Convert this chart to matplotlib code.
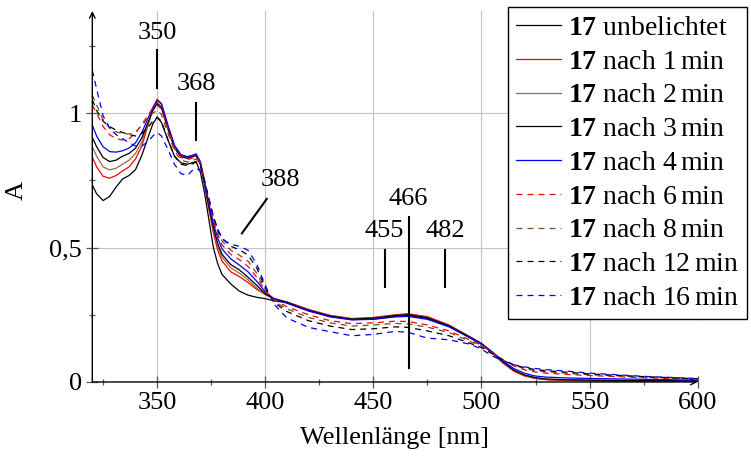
import matplotlib
matplotlib.use("Agg")
import matplotlib.pyplot as plt

plt.rcParams['font.family'] = ['Liberation Serif', 'DejaVu Serif']
plt.rcParams['mathtext.fontset'] = 'custom'
plt.rcParams['mathtext.rm'] = 'Liberation Serif'
plt.rcParams['mathtext.bf'] = 'Liberation Serif:bold'

# wavelength grid (nm)
lam = [320, 322, 325, 328, 331, 334, 337, 340, 343, 346,
       348, 350, 352, 355, 358, 361, 364, 366, 368, 370,
       372, 374, 376, 378, 380, 384, 388, 392, 396, 400,
       404, 410, 420, 430, 440, 450, 460, 466, 475, 485,
       495, 500, 505, 510, 515, 520, 525, 530, 540, 550,
       575, 600]

a_0 = [0.733, 0.70, 0.675, 0.69, 0.725, 0.755, 0.768, 0.79, 0.845, 0.915,
       0.96, 0.985, 0.965, 0.90, 0.84, 0.815, 0.81, 0.815, 0.82, 0.78,
       0.70, 0.60, 0.50, 0.44, 0.40, 0.365, 0.338, 0.323, 0.315, 0.31,
       0.302, 0.295, 0.265, 0.245, 0.232, 0.234, 0.244, 0.248, 0.237, 0.207,
       0.163, 0.14, 0.108, 0.072, 0.042, 0.024, 0.014, 0.009, 0.006, 0.005,
       0.003, 0.002]
a_1 = [0.837, 0.80, 0.765, 0.758, 0.768, 0.785, 0.80, 0.83, 0.88, 0.96,
       1.02, 1.052, 1.035, 0.95, 0.88, 0.845, 0.838, 0.842, 0.848, 0.81,
       0.73, 0.64, 0.555, 0.49, 0.45, 0.41, 0.392, 0.37, 0.345, 0.325,
       0.31, 0.298, 0.27, 0.248, 0.236, 0.24, 0.25, 0.254, 0.243, 0.212,
       0.167, 0.143, 0.108, 0.07, 0.04, 0.022, 0.013, 0.009, 0.006, 0.005,
       0.003, 0.002]
a_2 = [0.875, 0.84, 0.80, 0.789, 0.795, 0.81, 0.825, 0.85, 0.895, 0.965,
       1.01, 1.04, 1.025, 0.945, 0.875, 0.842, 0.835, 0.84, 0.845, 0.81,
       0.73, 0.645, 0.565, 0.505, 0.465, 0.425, 0.405, 0.38, 0.35, 0.325,
       0.31, 0.297, 0.268, 0.246, 0.235, 0.238, 0.248, 0.251, 0.24, 0.21,
       0.166, 0.143, 0.109, 0.072, 0.042, 0.024, 0.015, 0.01, 0.007, 0.006,
       0.004, 0.003]
a_3 = [0.91, 0.875, 0.835, 0.82, 0.825, 0.84, 0.85, 0.87, 0.91, 0.97,
       1.01, 1.035, 1.02, 0.94, 0.87, 0.838, 0.832, 0.837, 0.842, 0.81,
       0.735, 0.65, 0.575, 0.515, 0.475, 0.437, 0.417, 0.39, 0.36, 0.328,
       0.31, 0.296, 0.267, 0.245, 0.234, 0.237, 0.247, 0.25, 0.239, 0.209,
       0.165, 0.143, 0.11, 0.074, 0.044, 0.026, 0.016, 0.011, 0.008, 0.007,
       0.005, 0.004]
a_4 = [0.956, 0.915, 0.875, 0.857, 0.855, 0.86, 0.87, 0.89, 0.93, 0.985,
       1.02, 1.047, 1.035, 0.955, 0.88, 0.845, 0.838, 0.842, 0.848, 0.82,
       0.745, 0.66, 0.59, 0.535, 0.495, 0.458, 0.435, 0.41, 0.375, 0.335,
       0.31, 0.293, 0.264, 0.242, 0.231, 0.233, 0.242, 0.244, 0.233, 0.205,
       0.163, 0.142, 0.112, 0.078, 0.05, 0.032, 0.022, 0.018, 0.015, 0.013,
       0.01, 0.007]
a_6 = [1.03, 1.0, 0.95, 0.92, 0.905, 0.90, 0.905, 0.925, 0.96, 0.995,
       1.02, 1.03, 1.015, 0.94, 0.87, 0.835, 0.828, 0.832, 0.838, 0.815,
       0.745, 0.67, 0.60, 0.55, 0.51, 0.475, 0.455, 0.43, 0.39, 0.34,
       0.305, 0.28, 0.25, 0.228, 0.217, 0.22, 0.226, 0.225, 0.212, 0.19,
       0.155, 0.136, 0.11, 0.082, 0.06, 0.045, 0.037, 0.033, 0.028, 0.024,
       0.016, 0.01]
a_8 = [1.068, 1.03, 0.975, 0.945, 0.93, 0.925, 0.922, 0.93, 0.955, 0.985,
       1.0, 1.01, 0.995, 0.925, 0.86, 0.825, 0.818, 0.822, 0.83, 0.81,
       0.745, 0.675, 0.61, 0.56, 0.525, 0.49, 0.472, 0.45, 0.405, 0.345,
       0.30, 0.272, 0.24, 0.22, 0.208, 0.212, 0.218, 0.216, 0.204, 0.184,
       0.15, 0.133, 0.108, 0.082, 0.062, 0.05, 0.042, 0.038, 0.032, 0.027,
       0.018, 0.011]
a_12 = [1.05, 1.01, 0.97, 0.95, 0.937, 0.928, 0.92, 0.915, 0.925, 0.95,
        0.97, 0.985, 0.97, 0.90, 0.84, 0.81, 0.805, 0.81, 0.818, 0.805,
        0.745, 0.68, 0.615, 0.57, 0.535, 0.505, 0.492, 0.472, 0.425, 0.352,
        0.296, 0.262, 0.228, 0.208, 0.195, 0.198, 0.205, 0.203, 0.19, 0.172,
        0.143, 0.128, 0.105, 0.082, 0.064, 0.053, 0.046, 0.042, 0.036, 0.03,
        0.02, 0.012]
a_16 = [1.16, 1.09, 0.99, 0.945, 0.92, 0.905, 0.89, 0.878, 0.878, 0.895,
        0.915, 0.928, 0.915, 0.865, 0.81, 0.775, 0.768, 0.785, 0.795, 0.785,
        0.74, 0.68, 0.615, 0.565, 0.532, 0.512, 0.505, 0.49, 0.44, 0.36,
        0.29, 0.238, 0.203, 0.187, 0.172, 0.177, 0.188, 0.185, 0.163, 0.157,
        0.14, 0.122, 0.097, 0.077, 0.064, 0.056, 0.05, 0.046, 0.04, 0.033,
        0.021, 0.013]

labels = ['unbelichtet', 'nach 1$\\,$min', 'nach 2$\\,$min', 'nach 3$\\,$min',
          'nach 4$\\,$min', 'nach 6$\\,$min', 'nach 8$\\,$min',
          'nach 12$\\,$min', 'nach 16$\\,$min']
series = [a_0, a_1, a_2, a_3, a_4, a_6, a_8, a_12, a_16]
colors = ['black', 'red', '#9a6a40', 'black', 'blue',
          'red', '#7a4a20', 'black', 'blue']
dashed = [False] * 5 + [True] * 4

fig = plt.figure(figsize=(7.51, 4.62), dpi=100)
ax = fig.add_axes([0.1229, 0.1732, 0.8061, 0.803])

for y, lab, c, d in zip(series, labels, colors, dashed):
    ln, = ax.plot(lam, y, color=c, lw=0.9, label=r'$\mathbf{17}$ ' + lab)
    if d:
        ln.set_dashes((4.8, 4))

ax.set_xlim(320, 600)
ax.set_ylim(0, 1.38)
ax.set_xticks([350, 400, 450, 500, 550, 600])
ax.set_xticks([325, 375, 425, 475, 525, 575], minor=True)
ax.set_yticks([0, 0.5, 1])
ax.set_yticklabels(['0', '0,5', '1'])
ax.set_yticks([0.25, 0.75, 1.25], minor=True)
ax.grid(True, which='major', color='#c4c4c4', lw=0.8)
ax.tick_params(which='major', direction='inout', length=9, width=0.9,
               color='#555555', labelsize=19, pad=3)
ax.tick_params(which='minor', direction='inout', length=4.5, width=0.9,
               color='#555555')
for s in ax.spines.values():
    s.set_visible(False)
ax.annotate('', xy=(1.0, 0), xytext=(0, 0), xycoords='axes fraction',
            arrowprops=dict(arrowstyle='->', lw=1.0, color='black', shrinkA=0, shrinkB=0))
ax.annotate('', xy=(0, 1.0), xytext=(0, 0), xycoords='axes fraction',
            arrowprops=dict(arrowstyle='->', lw=1.0, color='black', shrinkA=0, shrinkB=0))

# peak markers
fs = 19
ax.plot([350, 350], [1.094, 1.235], color='black', lw=1.5)
ax.text(350, 1.30, '350', ha='center', va='center', fontsize=fs)
ax.plot([368, 368], [0.90, 1.038], color='black', lw=1.5)
ax.text(368, 1.108, '368', ha='center', va='center', fontsize=fs)
ax.plot([389.2, 400.7], [0.553, 0.681], color='black', lw=1.5)
ax.text(406.9, 0.751, '388', ha='center', va='center', fontsize=fs)
ax.plot([466.3, 466.3], [0.051, 0.615], color='black', lw=1.5)
ax.text(466.3, 0.681, '466', ha='center', va='center', fontsize=fs)
ax.plot([455.2, 455.2], [0.352, 0.491], color='black', lw=1.5)
ax.text(455.2, 0.562, '455', ha='center', va='center', fontsize=fs)
ax.plot([483.3, 483.3], [0.352, 0.491], color='black', lw=1.5)
ax.text(483.3, 0.562, '482', ha='center', va='center', fontsize=fs)

fig.text(16.7 / 751, 1 - 190 / 462, 'A', rotation=90, ha='center', va='center', fontsize=fs)
fig.text(395 / 751, 1 - 438 / 462, 'Wellenlänge [nm]', ha='center', va='center', fontsize=fs)

leg = ax.legend(loc='upper left', bbox_to_anchor=(508 / 751, 1 - 7 / 462),
                bbox_transform=fig.transFigure, fontsize=20, frameon=True,
                fancybox=False, framealpha=1, edgecolor='black',
                handlelength=1.6, handletextpad=0.25, labelspacing=0.3,
                borderpad=0.3, borderaxespad=0)
leg.get_frame().set_linewidth(1.0)
leg.set_zorder(10)

fig.savefig('out.png', dpi=100)
